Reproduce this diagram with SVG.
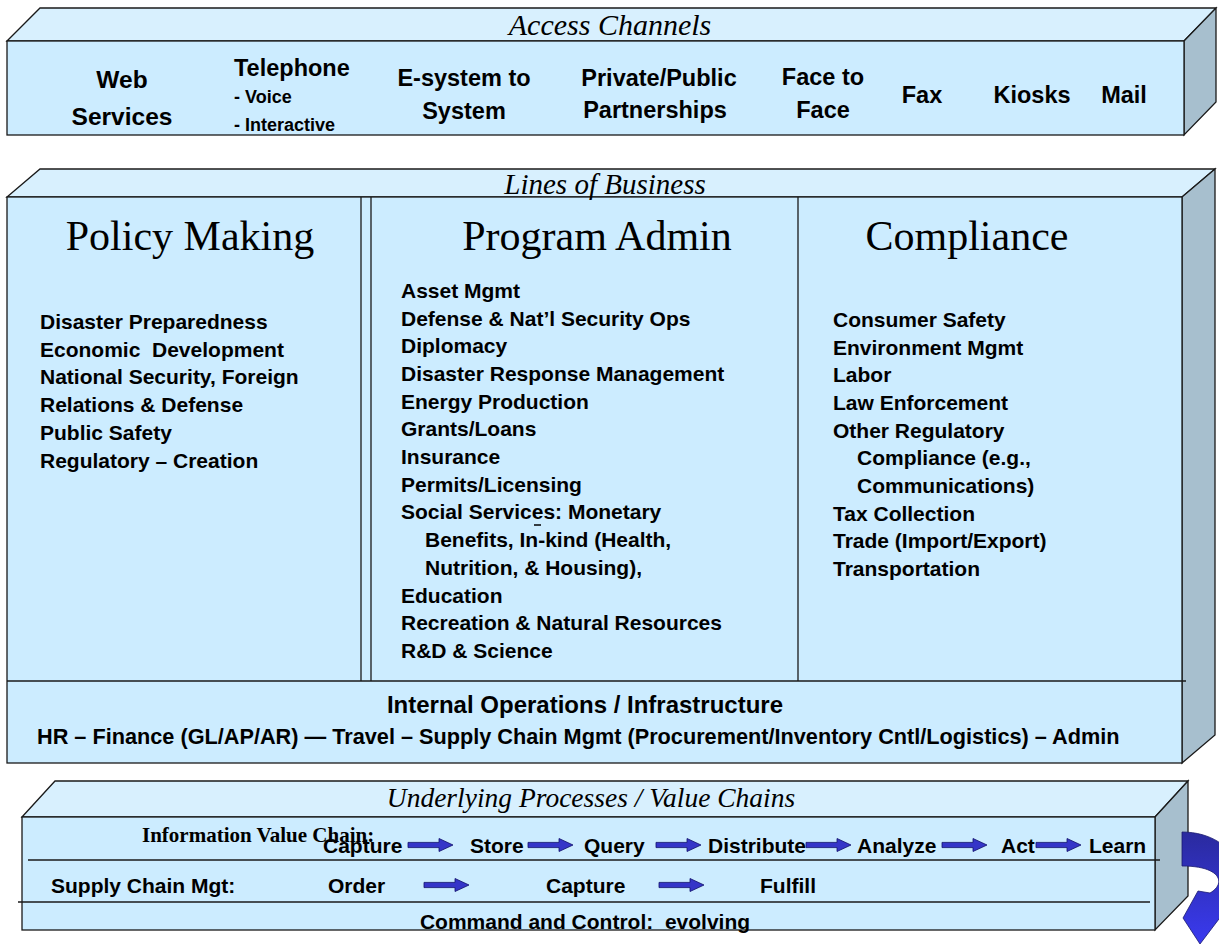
<svg xmlns="http://www.w3.org/2000/svg" width="1219" height="944" viewBox="0 0 1219 944">
<style>
.front{fill:#CCECFF;stroke:#1a1a1a;stroke-width:1.3}
.topf{fill:#D8F0FE;stroke:#1a1a1a;stroke-width:1.3}
.side{fill:#A7BFCE;stroke:#1a1a1a;stroke-width:1.3}
.ln{stroke:#1a1a1a;stroke-width:1.3;fill:none}
.t{font-family:"Liberation Sans",Arial,sans-serif;font-weight:bold;font-size:21px;fill:#000}
.big{font-size:23.5px}
.ws{font-size:24.5px}
.sm{font-size:18px}
.io{font-size:24px}
.hr{font-size:21.7px}
.ttl{font-family:"Liberation Serif","Times New Roman",serif;font-style:italic;font-size:29px;fill:#000}
.t30{font-size:30px}
.t27{font-size:27.5px}
.hdr{font-family:"Liberation Serif","Times New Roman",serif;font-size:42px;fill:#000}
.ivc{font-family:"Liberation Serif","Times New Roman",serif;font-weight:bold;font-size:21px;fill:#000}
.arr{fill:#3535C8;stroke:#10106A;stroke-width:0.8}
</style>
<defs>
<path id="ba" d="M0,-2.6 H31 V-6.5 L45,0 L31,6.5 V2.6 H0 Z"/>
<linearGradient id="cg" x1="0" y1="0" x2="0" y2="1">
<stop offset="0" stop-color="#2A2A9E"/>
<stop offset="1" stop-color="#3A3AF0"/>
</linearGradient>
</defs>

<g id="access-channels">
<polygon class="topf" points="7,41 40,8 1216,8 1184,41"/>
<polygon class="side" points="1184,41 1216,8 1216,102 1184,135"/>
<rect class="front" x="7" y="41" width="1177" height="94"/>
<text class="ttl t30" x="610" y="35" text-anchor="middle">Access Channels</text>
<text class="t ws" x="122" y="88" text-anchor="middle">Web</text>
<text class="t ws" x="122" y="125" text-anchor="middle">Services</text>
<text class="t big" x="234" y="76">Telephone</text>
<text class="t sm" x="234" y="103">- Voice</text>
<text class="t sm" x="234" y="131">- Interactive</text>
<text class="t big" x="464" y="86" text-anchor="middle">E-system to</text>
<text class="t big" x="464" y="119" text-anchor="middle">System</text>
<text class="t big" x="659" y="86" text-anchor="middle">Private/Public</text>
<text class="t big" x="655" y="118" text-anchor="middle">Partnerships</text>
<text class="t big" x="823" y="85" text-anchor="middle">Face to</text>
<text class="t big" x="823" y="118" text-anchor="middle">Face</text>
<text class="t big" x="922" y="103" text-anchor="middle">Fax</text>
<text class="t big" x="1032" y="103" text-anchor="middle">Kiosks</text>
<text class="t big" x="1124" y="103" text-anchor="middle">Mail</text>
</g>

<g id="lines-of-business">
<polygon class="topf" points="7,197 40,169 1215,169 1182,197"/>
<polygon class="side" points="1182,197 1215,169 1215,735 1182,763"/>
<rect class="front" x="7" y="197" width="1175" height="566"/>
<text class="ttl" x="605" y="194" text-anchor="middle">Lines of Business</text>
<line class="ln" x1="361" y1="197" x2="361" y2="681"/>
<line class="ln" x1="371" y1="197" x2="371" y2="681"/>
<line class="ln" x1="798" y1="197" x2="798" y2="681"/>
<line class="ln" x1="7" y1="681" x2="1186" y2="681"/>
</g>

<g id="policy-making">
<text class="hdr" x="190" y="250" text-anchor="middle">Policy Making</text>
<text class="t" x="40" y="329">Disaster Preparedness</text>
<text class="t" x="40" y="357" xml:space="preserve">Economic  Development</text>
<text class="t" x="40" y="384">National Security, Foreign</text>
<text class="t" x="40" y="412">Relations &amp; Defense</text>
<text class="t" x="40" y="440">Public Safety</text>
<text class="t" x="40" y="468">Regulatory – Creation</text>
</g>

<g id="program-admin">
<text class="hdr" x="597" y="250" text-anchor="middle">Program Admin</text>
<text class="t" x="401" y="298">Asset Mgmt</text>
<text class="t" x="401" y="326">Defense &amp; Nat’l Security Ops</text>
<text class="t" x="401" y="353">Diplomacy</text>
<text class="t" x="401" y="381">Disaster Response Management</text>
<text class="t" x="401" y="409">Energy Production</text>
<text class="t" x="401" y="436">Grants/Loans</text>
<text class="t" x="401" y="464">Insurance</text>
<text class="t" x="401" y="492">Permits/Licensing</text>
<text class="t" x="401" y="519">Social Services: Monetary</text>
<line x1="534" y1="525" x2="541" y2="525" stroke="#000" stroke-width="1.5"/>
<text class="t" x="425" y="547">Benefits, In-kind (Health,</text>
<text class="t" x="425" y="575">Nutrition, &amp; Housing),</text>
<text class="t" x="401" y="603">Education</text>
<text class="t" x="401" y="630">Recreation &amp; Natural Resources</text>
<text class="t" x="401" y="658">R&amp;D &amp; Science</text>
</g>

<g id="compliance">
<text class="hdr" x="967" y="250" text-anchor="middle">Compliance</text>
<text class="t" x="833" y="327">Consumer Safety</text>
<text class="t" x="833" y="355">Environment Mgmt</text>
<text class="t" x="833" y="382">Labor</text>
<text class="t" x="833" y="410">Law Enforcement</text>
<text class="t" x="833" y="438">Other Regulatory</text>
<text class="t" x="857" y="465">Compliance (e.g.,</text>
<text class="t" x="857" y="493">Communications)</text>
<text class="t" x="833" y="521">Tax Collection</text>
<text class="t" x="833" y="548">Trade (Import/Export)</text>
<text class="t" x="833" y="576">Transportation</text>
</g>

<g id="internal-operations">
<text class="t io" x="585" y="713" text-anchor="middle">Internal Operations / Infrastructure</text>
<text class="t hr" x="37" y="744">HR – Finance (GL/AP/AR) — Travel – Supply Chain Mgmt (Procurement/Inventory Cntl/Logistics) – Admin</text>
</g>

<g id="value-chains">
<polygon class="topf" points="22,817 55,781 1188,781 1155,817"/>
<polygon class="side" points="1155,817 1188,781 1188,896 1155,930"/>
<rect class="front" x="22" y="817" width="1133" height="113"/>
<line class="ln" x1="28" y1="860" x2="1160" y2="860"/>
<line class="ln" x1="18" y1="902" x2="1150" y2="902"/>
<text class="ttl t27" x="591" y="807" text-anchor="middle">Underlying Processes / Value Chains</text>
<text class="ivc" x="142" y="842">Information Value Chain:</text>
<text class="t" x="323" y="853">Capture</text>
<text class="t" x="470" y="853">Store</text>
<text class="t" x="584" y="853">Query</text>
<text class="t" x="708" y="853">Distribute</text>
<text class="t" x="857" y="853">Analyze</text>
<text class="t" x="1001" y="853">Act</text>
<text class="t" x="1089" y="853">Learn</text>
<text class="t" x="51" y="893">Supply Chain Mgt:</text>
<text class="t" x="328" y="893">Order</text>
<text class="t" x="546" y="893">Capture</text>
<text class="t" x="760" y="893">Fulfill</text>
<text class="t" x="585" y="929" text-anchor="middle" xml:space="preserve">Command and Control:  evolving</text>
</g>

<g id="connectors">
<use href="#ba" class="arr" x="408" y="845"/>
<use href="#ba" class="arr" x="528" y="845"/>
<use href="#ba" class="arr" x="656" y="845"/>
<use href="#ba" class="arr" x="806" y="845"/>
<use href="#ba" class="arr" x="942" y="845"/>
<use href="#ba" class="arr" x="1036" y="845"/>
<use href="#ba" class="arr" x="424" y="885"/>
<use href="#ba" class="arr" x="659" y="885"/>
<path id="cycle-arrow" d="M1182,832 C1240,832 1262,892 1222,915 L1200,944 L1183,918 L1198,891 L1210,893 C1226,884 1222,866 1182,866 Z" fill="url(#cg)" stroke="#1a1a70" stroke-width="0.8"/>
</g>
</svg>
